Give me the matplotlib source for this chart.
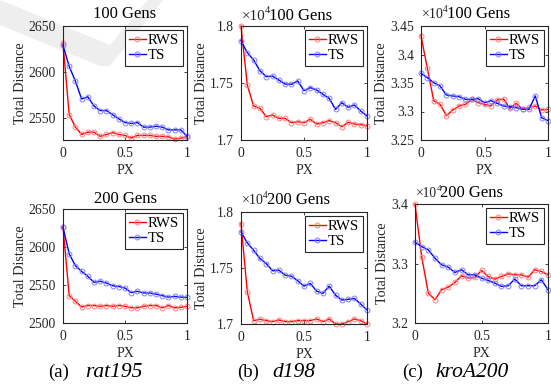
import numpy as np
import matplotlib
matplotlib.use("Agg")
import matplotlib.pyplot as plt
from matplotlib.patches import Polygon

plt.rcParams['font.family'] = ['Liberation Serif', 'DejaVu Serif']

W, H = 551, 385

px = np.round(np.arange(21) * 0.05, 2)

# rat195
rat_rws_100 = [2631, 2553.6, 2540, 2532, 2534.5, 2534.5, 2530, 2532, 2534, 2532, 2531,
               2528, 2531, 2531, 2531, 2530, 2530, 2529.5, 2527, 2528, 2529.5]
rat_ts_100 = [2629, 2606, 2590, 2570.6, 2573, 2563, 2558, 2558, 2553.6, 2549, 2545,
              2544, 2545, 2540, 2540, 2541, 2540, 2537, 2537, 2537, 2530]
rat_rws_200 = [2626.3, 2536, 2528.5, 2521, 2523, 2523, 2522, 2523, 2522, 2523, 2522,
               2520, 2520, 2522, 2523, 2523, 2520, 2523, 2520, 2520.6, 2522]
rat_ts_200 = [2626, 2591, 2575.4, 2568, 2561.4, 2553.5, 2555, 2552.6, 2549, 2548, 2546,
              2540, 2541.7, 2539.5, 2539.5, 2538, 2536, 2534, 2535, 2534, 2533.7]

# d198 (x 10^4)
d_rws_100 = [1.800, 1.7482, 1.7298, 1.7278, 1.7205, 1.7219, 1.7190, 1.7190, 1.7152, 1.7160, 1.7152,
             1.7181, 1.7140, 1.7152, 1.7170, 1.7152, 1.7117, 1.7155, 1.7140, 1.7135, 1.7123]
d_ts_100 = [1.7871, 1.7766, 1.7702, 1.7608, 1.7556, 1.7561, 1.7526, 1.7491, 1.7488, 1.7518, 1.7433,
            1.7459, 1.7439, 1.7401, 1.7365, 1.7269, 1.7327, 1.7287, 1.7307, 1.7254, 1.7211]
d_rws_200 = [1.7896, 1.7288, 1.7030, 1.7042, 1.7030, 1.7021, 1.7036, 1.7021, 1.7021, 1.7030, 1.7030,
             1.7030, 1.7045, 1.7021, 1.7045, 1.7000, 1.7000, 1.7021, 1.7045, 1.7030, 1.7000]
d_ts_200 = [1.7822, 1.7724, 1.7659, 1.7585, 1.7540, 1.7475, 1.7481, 1.7436, 1.7427, 1.7386, 1.7338,
            1.7362, 1.7294, 1.7273, 1.7338, 1.7258, 1.7214, 1.7220, 1.7228, 1.7178, 1.7125]

# kroA200 (x 10^4)
k_rws_100 = [3.433, 3.3757, 3.319, 3.3126, 3.2927, 3.3026, 3.3096, 3.3126, 3.3213, 3.3155, 3.3126,
             3.3096, 3.3202, 3.3219, 3.3056, 3.3143, 3.3038, 3.3073, 3.3096, 3.3026, 3.3038]
k_ts_100 = [3.367, 3.3594, 3.3506, 3.3447, 3.329, 3.3272, 3.326, 3.3213, 3.3213, 3.3225, 3.3155,
            3.319, 3.3143, 3.3096, 3.3085, 3.3067, 3.3038, 3.3038, 3.3272, 3.2892, 3.2839]
k_rws_200 = [3.400, 3.3117, 3.2503, 3.2391, 3.2559, 3.2603, 3.2682, 3.2793, 3.2754, 3.2765, 3.2883,
             3.2782, 3.2737, 3.2782, 3.2827, 3.281, 3.281, 3.2771, 3.2894, 3.2866, 3.281]
k_ts_200 = [3.3358, 3.3285, 3.3229, 3.3089, 3.2978, 3.2939, 3.2849, 3.2894, 3.281, 3.281, 3.2754,
            3.2715, 3.267, 3.2615, 3.2626, 3.2737, 3.2626, 3.2626, 3.2626, 3.2726, 3.2559]

panels = [
    # rws, ts, title, ylim, yticks, yticklabels,
    # title offset after the x10^4 multiplier (pt, None = centred, no multiplier),
    # title pad (pt), box in pixels (left, top, right, bottom)
    (rat_rws_100, rat_ts_100, '100 Gens', (2526, 2650), [2550, 2600, 2650],
     ['2550', '2600', '2650'], None, 5.8, (63, 26, 187, 140)),
    (d_rws_100, d_ts_100, '100 Gens', (1.7, 1.8), [1.7, 1.75, 1.8],
     ['1.7', '1.75', '1.8'], 20.2, 4.5, (241, 26, 367, 140)),
    (k_rws_100, k_ts_100, '100 Gens', (3.25, 3.45), [3.25, 3.3, 3.35, 3.4, 3.45],
     ['3.25', '3.3', '3.35', '3.4', '3.45'], 18.7, 5.8, (421, 26, 548, 140)),
    (rat_rws_200, rat_ts_200, '200 Gens', (2500, 2650), [2500, 2550, 2600, 2650],
     ['2500', '2550', '2600', '2650'], None, 4.3, (63, 209, 187, 323)),
    (d_rws_200, d_ts_200, '200 Gens', (1.7, 1.8), [1.7, 1.75, 1.8],
     ['1.7', '1.75', '1.8'], 18.7, 5.8, (241, 212, 367, 324)),
    (k_rws_200, k_ts_200, '200 Gens', (3.2, 3.4), [3.2, 3.3, 3.4],
     ['3.2', '3.3', '3.4'], 18.0, 5.0, (415, 204, 548, 323)),
]

# sub-figure captions: label, instance name, label left x, name left x (pixels)
captions = [('(a)', 'rat195', 48, 85), ('(b)', 'd198', 237, 272), ('(c)', 'kroA200', 402, 435)]
CAPTION_BASELINE = 377

fig = plt.figure(figsize=(W / 100, H / 100), dpi=100)

# faint background watermark stroke
wm = [(0, 0), (110, 45), (148, 0), (163, 0), (110, 66), (100, 66), (0, 25)]
fig.patches.append(Polygon([(x / W, 1 - y / H) for x, y in wm], closed=True,
                           transform=fig.transFigure, facecolor='#eeeeee',
                           edgecolor='none', zorder=-10))

INK = '#262626'
TITLE_SIZE = 12
for rws, ts, title, ylim, yt, ytl, toff, tpad, (l, t, r, b) in panels:
    ax = fig.add_axes([l / W, 1 - b / H, (r - l) / W, (b - t) / H])
    ax.patch.set_alpha(0)
    ax.plot(px, rws, color='#ff0000', lw=1.0, marker='o', ms=3.5, mfc='none',
            mec=(1, 0.5, 0.5), mew=0.7, label='RWS', clip_on=False)
    ax.plot(px, ts, color='#0000ff', lw=1.0, marker='o', ms=3.5, mfc='none',
            mec=(0.5, 0.5, 1), mew=0.7, label='TS', clip_on=False)
    ax.set_xlim(0, 1)
    ax.set_ylim(*ylim)
    ax.set_xticks([0, 0.5, 1])
    ax.set_xticklabels(['0', '0.5', '1'])
    ax.set_yticks(yt)
    ax.set_yticklabels(ytl)
    ax.tick_params(direction='in', length=2.5, width=0.6, labelsize=9.8,
                   top=True, right=True, pad=5, colors=INK)
    for s in ax.spines.values():
        s.set_linewidth(0.8)
        s.set_color(INK)
    ax.set_xlabel('PX', fontsize=10, labelpad=3, color=INK)
    ax.set_ylabel('Total Distance', fontsize=10.2, labelpad=1.5, color=INK)
    if toff is not None:
        # axis multiplier: "x10" with a raised exponent, then the title
        fs = toff / 1.85
        ax.annotate('\u00d710', xy=(0, 1), xycoords='axes fraction',
                    xytext=(0.5, tpad), textcoords='offset points', ha='left',
                    va='baseline', fontsize=fs, color=INK)
        ax.annotate('4', xy=(0, 1), xycoords='axes fraction',
                    xytext=(0.5 + 1.54 * fs, tpad + 0.45 * fs),
                    textcoords='offset points', ha='left', va='baseline',
                    fontsize=0.68 * fs, color=INK)
        ax.annotate(title, xy=(0, 1), xycoords='axes fraction',
                    xytext=(toff, tpad), textcoords='offset points', ha='left',
                    va='baseline', fontsize=TITLE_SIZE, color='#000000')
    else:
        ax.set_title(title, fontsize=TITLE_SIZE, pad=tpad, color='#000000')
    leg = ax.legend(loc='upper right', fontsize=10.6, handlelength=1.2,
                    handletextpad=0.1, borderpad=0.25, labelspacing=0.12,
                    borderaxespad=0.3, fancybox=False, framealpha=1,
                    edgecolor=INK)
    leg.get_frame().set_linewidth(0.8)

for lab, name, x_lab, x_name in captions:
    fig.text(x_lab / W, 1 - CAPTION_BASELINE / H, lab, ha='left', va='baseline',
             fontsize=13.5)
    fig.text(x_name / W, 1 - CAPTION_BASELINE / H, name, ha='left', va='baseline',
             fontsize=15.5, fontstyle='italic')

fig.savefig('out.png', dpi=100)
